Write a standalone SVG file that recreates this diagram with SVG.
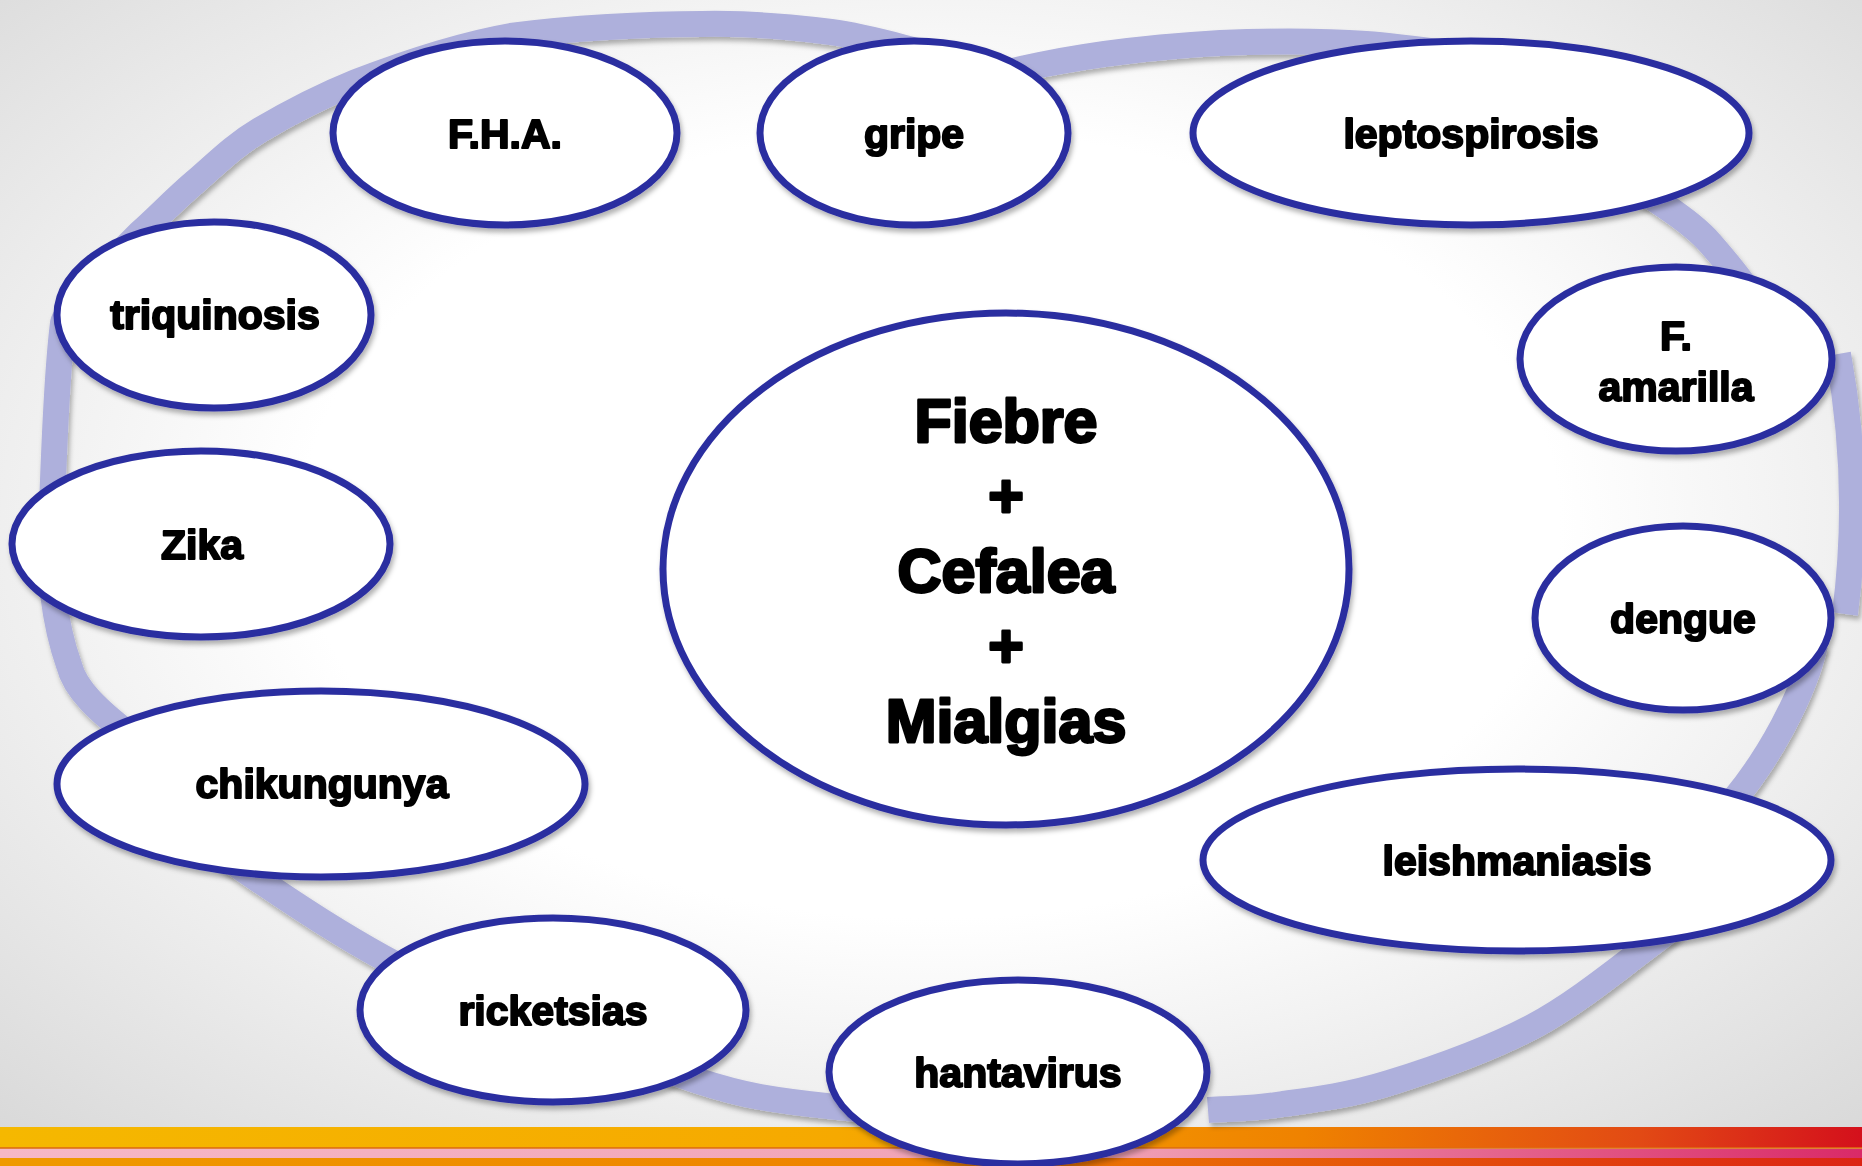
<svg xmlns="http://www.w3.org/2000/svg" width="1862" height="1166" viewBox="0 0 1862 1166">
<defs>
<radialGradient id="bg" cx="50%" cy="45%" r="75%">
<stop offset="0.45" stop-color="#ffffff"/>
<stop offset="1" stop-color="#d6d6d6"/>
</radialGradient>
<linearGradient id="barA" x1="0" y1="0" x2="1" y2="0">
<stop offset="0" stop-color="#f5b800"/>
<stop offset="0.45" stop-color="#f6a900"/>
<stop offset="0.7" stop-color="#ef8200"/>
<stop offset="0.88" stop-color="#e24a14"/>
<stop offset="1" stop-color="#d4101c"/>
</linearGradient>
<linearGradient id="barB" x1="0" y1="0" x2="1" y2="0">
<stop offset="0" stop-color="#f6b8c6"/>
<stop offset="0.6" stop-color="#f0a0b4"/>
<stop offset="1" stop-color="#d92a68"/>
</linearGradient>
<linearGradient id="barC" x1="0" y1="0" x2="1" y2="0">
<stop offset="0" stop-color="#ef9a00"/>
<stop offset="0.5" stop-color="#ee8200"/>
<stop offset="1" stop-color="#dc2414"/>
</linearGradient>
<filter id="sh" x="-10%" y="-10%" width="120%" height="125%">
<feDropShadow dx="2" dy="4" stdDeviation="2.5" flood-color="#000" flood-opacity="0.3"/>
</filter>
<style>
.ring{fill:none;stroke:#aeb0dc;stroke-width:26;stroke-linecap:butt}
.node{fill:#ffffff;stroke:#2c2ea0;stroke-width:7}
.lbl{font-family:"Liberation Sans",Arial,sans-serif;font-weight:bold;font-size:41px;fill:#000;stroke:#000;stroke-width:2;stroke-linejoin:round;text-anchor:middle}
.big{font-size:61px;stroke-width:2.8}
</style>
</defs>
<rect x="0" y="0" width="1862" height="1166" fill="url(#bg)"/>
<g id="bar">
<rect x="0" y="1127" width="1862" height="21" fill="url(#barA)"/>
<rect x="0" y="1147" width="1862" height="2" fill="#e06a10" opacity="0.8"/>
<rect x="0" y="1149" width="1862" height="9" fill="url(#barB)"/>
<rect x="0" y="1158" width="1862" height="8" fill="url(#barC)"/>
</g>
<g id="connectors" filter="url(#sh)">
<path class="ring" d="M50,560 C53,480 56,380 63,323 Q66,307 140,233 C158,217 175,199 195,182 C215,165 233,146 260,130 C287,114 314,99 356,82 C398,66 454,46 511,36 C569,28 648,24 701,24 C754,23 794,27 831,32 C869,37 910,50 926,53"/>
<path class="ring" d="M980,80 C990,77 1015,70 1040,65 C1065,60 1094,55 1128,51 C1163,47 1207,43 1247,42 C1287,41 1327,41 1366,44 C1406,47 1464,56 1484,58"/>
<path class="ring" d="M1615,178 C1640,188 1690,220 1710,243 S1745,285 1752,297"/>
<path class="ring" d="M1838,354 Q1862,484 1845,614"/>
<path class="ring" d="M1815,645 C1805,690 1770,760 1725,810"/>
<path class="ring" d="M1686,914 C1680,919 1677,925 1651,944 C1625,963 1576,1004 1532,1027 C1488,1050 1431,1070 1389,1083 C1347,1096 1313,1100 1283,1104 C1253,1109 1221,1109 1208,1110"/>
<path class="ring" d="M641,1060 C670,1072 720,1090 760,1097 S860,1110 903,1112"/>
<path class="ring" d="M214,849 C280,895 360,950 439,986"/>
<path class="ring" d="M131,736 C100,712 75,690 69,665 C60,640 55,610 53,594"/>
</g>
<g id="center" filter="url(#sh)">
<ellipse class="node" cx="1006" cy="569" rx="343" ry="256" stroke-width="6"/>
<text class="lbl big" x="1006" y="442">Fiebre</text>
<text class="lbl big" x="1006" y="517">+</text>
<text class="lbl big" x="1006" y="592">Cefalea</text>
<text class="lbl big" x="1006" y="667">+</text>
<text class="lbl big" x="1006" y="742">Mialgias</text>
</g>
<g id="fha" filter="url(#sh)">
<ellipse class="node" cx="505" cy="133" rx="172" ry="92"/>
<text class="lbl" x="505" y="148">F.H.A.</text>
</g>
<g id="gripe" filter="url(#sh)">
<ellipse class="node" cx="914" cy="133" rx="154" ry="92"/>
<text class="lbl" x="914" y="148">gripe</text>
</g>
<g id="leptospirosis" filter="url(#sh)">
<ellipse class="node" cx="1471" cy="133" rx="278" ry="92"/>
<text class="lbl" x="1471" y="148">leptospirosis</text>
</g>
<g id="triquinosis" filter="url(#sh)">
<ellipse class="node" cx="214" cy="315" rx="157" ry="93"/>
<text class="lbl" x="215" y="329">triquinosis</text>
</g>
<g id="famarilla" filter="url(#sh)">
<ellipse class="node" cx="1676" cy="359" rx="156" ry="92"/>
<text class="lbl" x="1676" y="350">F.</text>
<text class="lbl" x="1676" y="401">amarilla</text>
</g>
<g id="zika" filter="url(#sh)">
<ellipse class="node" cx="201" cy="544" rx="189" ry="93"/>
<text class="lbl" x="202" y="559">Zika</text>
</g>
<g id="dengue" filter="url(#sh)">
<ellipse class="node" cx="1683" cy="618" rx="148" ry="92"/>
<text class="lbl" x="1683" y="633">dengue</text>
</g>
<g id="chikungunya" filter="url(#sh)">
<ellipse class="node" cx="321" cy="784" rx="264" ry="93"/>
<text class="lbl" x="322" y="798">chikungunya</text>
</g>
<g id="leishmaniasis" filter="url(#sh)">
<ellipse class="node" cx="1517" cy="860" rx="314" ry="91"/>
<text class="lbl" x="1517" y="875">leishmaniasis</text>
</g>
<g id="ricketsias" filter="url(#sh)">
<ellipse class="node" cx="553" cy="1010" rx="193" ry="92"/>
<text class="lbl" x="553" y="1025">ricketsias</text>
</g>
<g id="hantavirus" filter="url(#sh)">
<ellipse class="node" cx="1018" cy="1072" rx="189" ry="92"/>
<text class="lbl" x="1018" y="1087">hantavirus</text>
</g>
</svg>
